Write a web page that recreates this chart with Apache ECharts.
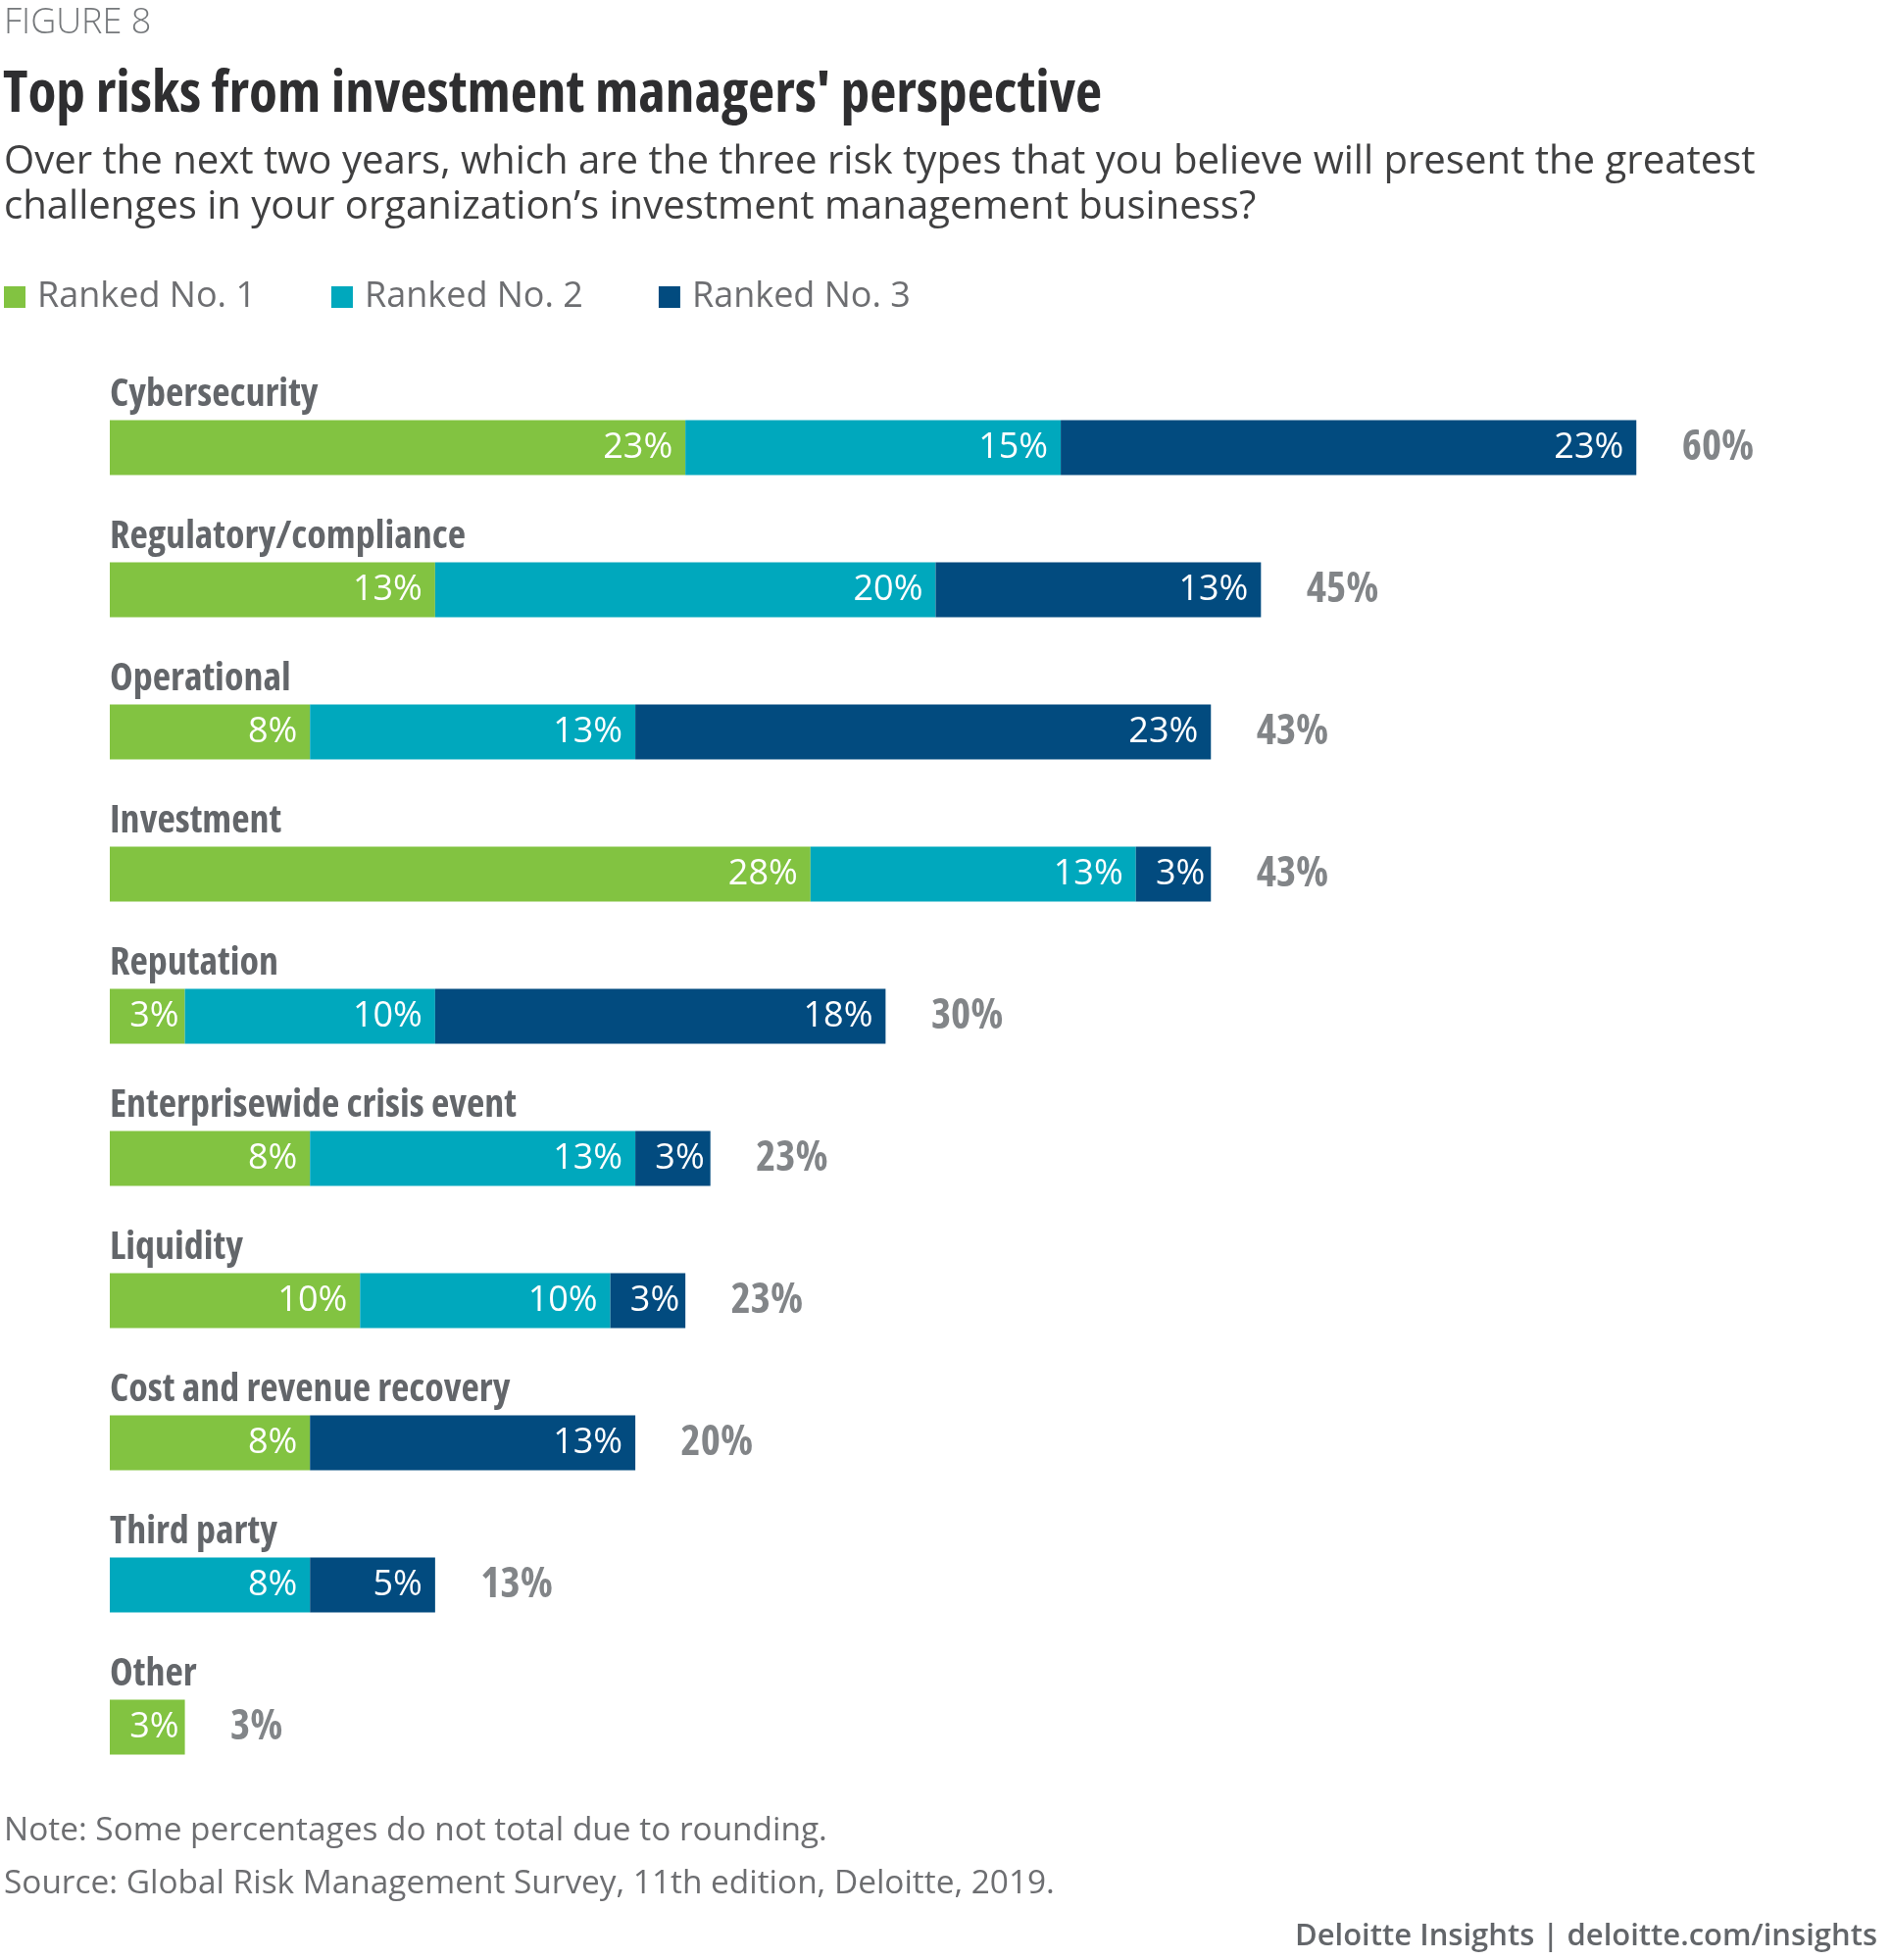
<!DOCTYPE html>
<html><head><meta charset="utf-8">
<script src="https://cdn.jsdelivr.net/npm/echarts@6/dist/echarts.min.js"></script>
<style>html,body{margin:0;padding:0;background:#fff}#c{width:1928px;height:1999px}</style>
</head><body><div id="c"></div>
<script>
// ---- data ----
const categories = ['Cybersecurity', 'Regulatory/compliance', 'Operational', 'Investment', 'Reputation',
  'Enterprisewide crisis event', 'Liquidity', 'Cost and revenue recovery', 'Third party', 'Other'];
const ranked1 = [23, 13, 8, 28, 3, 8, 10, 8, 0, 3];
const ranked2 = [15, 20, 13, 13, 10, 13, 10, 0, 8, 0];
const ranked3 = [23, 13, 23, 3, 18, 3, 3, 13, 5, 0];
const totals = [60, 45, 43, 43, 30, 23, 23, 20, 13, 3];
const seriesNames = ['Ranked No. 1', 'Ranked No. 2', 'Ranked No. 3'];

const COLORS = ['#82c341', '#00a8bd', '#024b7f'];
const GRAY = '#63666a';
const chart = echarts.init(document.getElementById('c'));

const innerLabel = {
  show: true, position: 'insideRight', distance: 13, color: '#fff',
  fontFamily: "'Open Sans'", fontSize: 36, padding: [5, 0, 0, 0],
  formatter: p => (p.value ? p.value + '%' : '')
};
const rankArrays = [ranked1, ranked2, ranked3];
const barSeries = rankArrays.map((arr, k) => ({
  name: seriesNames[k], type: 'bar', stack: 'total', barWidth: 56,
  itemStyle: { color: COLORS[k] },
  label: innerLabel,
  // narrow segments keep their label closer to the segment end
  data: arr.map(v => (v > 0 && v <= 3 ? { value: v, label: { distance: 6 } } : v))
}));

const totalSeries = {
  name: 'total', type: 'scatter', symbolSize: 1, silent: true,
  itemStyle: { color: 'rgba(0,0,0,0)' },
  label: {
    show: true, position: 'right', distance: 46, color: GRAY, padding: [7, 0, 0, 0],
    fontFamily: "'Open Sans'", fontWeight: 'bold condensed', fontSize: 43,
    formatter: p => totals[p.dataIndex] + '%'
  },
  data: categories.map((c, i) => [ranked1[i] + ranked2[i] + ranked3[i], c])
};

chart.setOption({
  backgroundColor: '#fff',
  animation: false,
  legend: {
    left: 4, top: 282, padding: 0, itemGap: 77,
    itemWidth: 22, itemHeight: 22, icon: 'rect',
    textStyle: { fontFamily: "'Open Sans'", fontSize: 36, color: '#6d6e71', lineHeight: 42, padding: [0, 0, 0, 7] },
    data: seriesNames
  },
  grid: { left: 112, right: 29, top: 384, bottom: 165, containLabel: false },
  xAxis: { type: 'value', min: 0, max: 70, show: false },
  yAxis: {
    type: 'category', inverse: true, data: categories,
    axisLine: { show: false }, axisTick: { show: false }, splitLine: { show: false },
    axisLabel: {
      inside: true, margin: 0, align: 'left', verticalAlign: 'bottom',
      fontFamily: "'Open Sans'", fontWeight: 'bold condensed', fontSize: 40, lineHeight: 40,
      color: GRAY, padding: [0, 0, 34, 0]
    }
  },
  series: [...barSeries, totalSeries],
  graphic: [
    { type: 'text', x: 4, y: 24, style: { text: 'FIGURE 8', font: "300 36px 'Open Sans'", fill: '#75787b', verticalAlign: 'middle' } },
    { type: 'text', x: 3, y: 97, style: { text: "Top risks from investment managers' perspective", font: "bold condensed 59.3px 'Open Sans'", fill: '#2e2e30', verticalAlign: 'middle' } },
    { type: 'text', x: 4, y: 143, style: { text: 'Over the next two years, which are the three risk types that you believe will present the greatest\nchallenges in your organization\u2019s investment management business?', font: "40.1px 'Open Sans'", lineHeight: 46, fill: '#404041', verticalAlign: 'top' } },
    { type: 'text', x: 4, y: 1867, style: { text: 'Note: Some percentages do not total due to rounding.', font: "33.4px 'Open Sans'", fill: '#6d6e71', verticalAlign: 'middle' } },
    { type: 'text', x: 4, y: 1921, style: { text: 'Source: Global Risk Management Survey, 11th edition, Deloitte, 2019.', font: "33.4px 'Open Sans'", fill: '#6d6e71', verticalAlign: 'middle' } },
    { type: 'text', x: 1915, y: 1975, style: { text: 'Deloitte Insights | deloitte.com/insights', font: "600 31px 'Open Sans'", fill: GRAY, align: 'right', verticalAlign: 'middle' } }
  ]
});
</script></body></html>
